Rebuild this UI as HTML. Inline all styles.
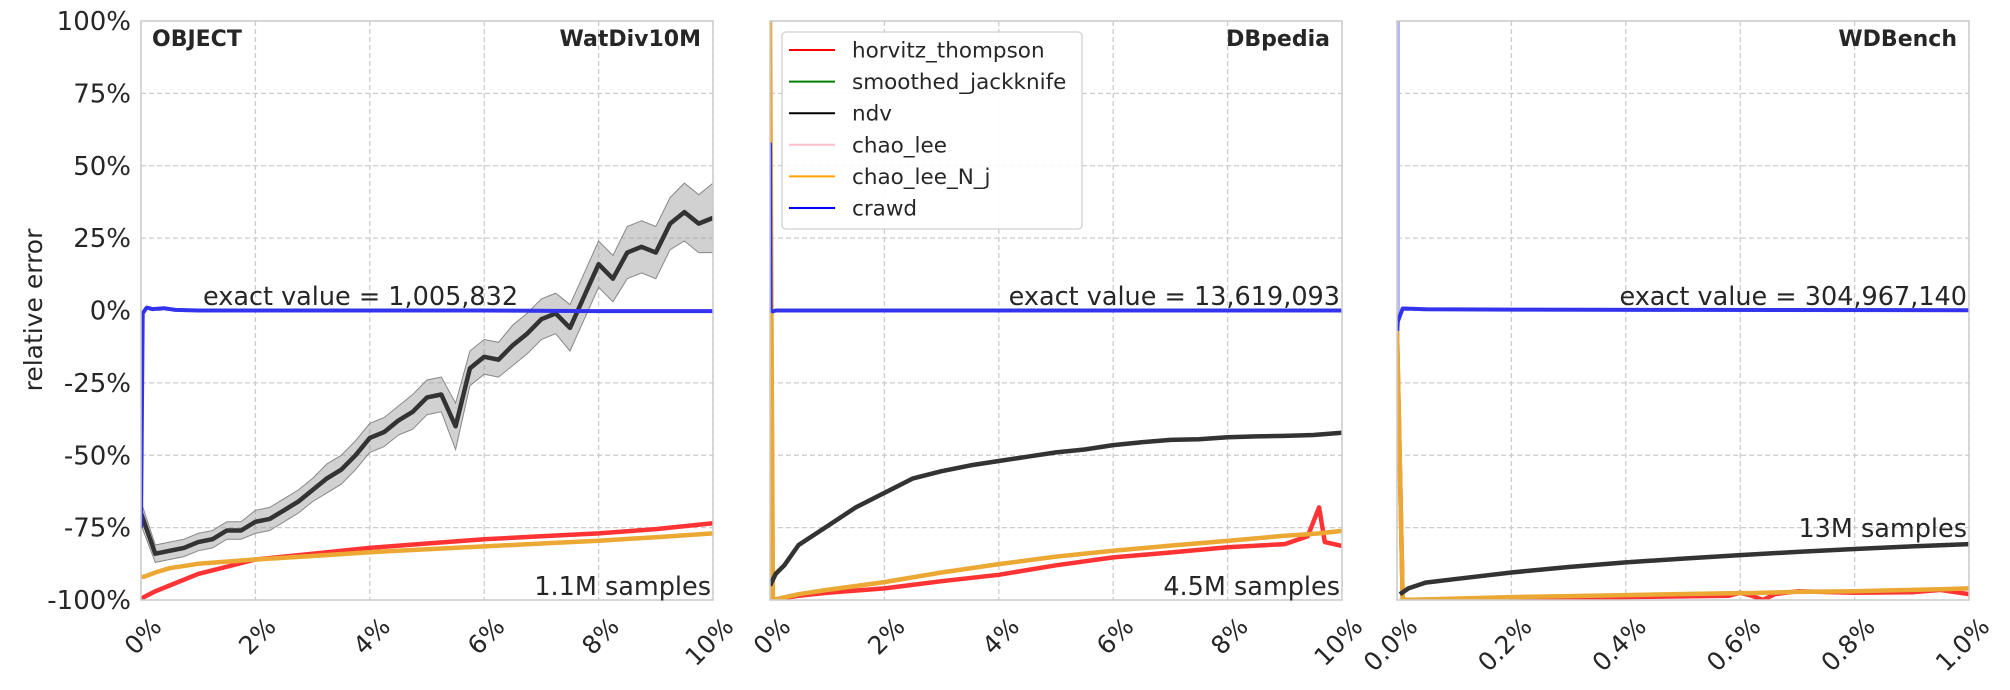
<!DOCTYPE html>
<html><head><meta charset="utf-8">
<style>
html,body{margin:0;padding:0;background:#fff;}
svg{display:block;font-family:"DejaVu Sans","Liberation Sans",sans-serif;}
</style></head>
<body>
<svg id="chart" width="2010" height="690" viewBox="0 0 2010 690" xmlns="http://www.w3.org/2000/svg">
<text x="42" y="310" transform="rotate(-90 42 310)" text-anchor="middle" font-size="25" fill="#262626">relative error</text>
</svg>
<script>
// ---- data ----
const yTicks = [100, 75, 50, 25, 0, -25, -50, -75, -100];
const panelNames = ["WatDiv10M", "DBpedia", "WDBench"];
const exactLabels = ["exact value = 1,005,832", "exact value = 13,619,093", "exact value = 304,967,140"];
const sampleLabels = ["1.1M samples", "4.5M samples", "13M samples"];
const xMaxes = [10, 10, 1.0];
const xTicks1 = [0, 2, 4, 6, 8, 10];
const xTickLabels1 = ["0%", "2%", "4%", "6%", "8%", "10%"];
const xTicks3 = [0, 0.2, 0.4, 0.6, 0.8, 1.0];
const xTickLabels3 = ["0.0%", "0.2%", "0.4%", "0.6%", "0.8%", "1.0%"];
const legendNames = ["horvitz_thompson", "smoothed_jackknife", "ndv", "chao_lee", "chao_lee_N_j", "crawd"];
const legendColors = ["#ff0000", "#007f00", "#000000", "#ffc0cb", "#ffa500", "#0000ff"];

// Panel 1 (WatDiv10M)
const p1X = [0,0.25,0.5,0.75,1,1.25,1.5,1.75,2,2.25,2.5,2.75,3,3.25,3.5,3.75,4,4.25,4.5,4.75,5,5.25,5.5,5.75,6,6.25,6.5,6.75,7,7.25,7.5,7.75,8,8.25,8.5,8.75,9,9.25,9.5,9.75,10];
const p1Ndv = [-70,-84,-83,-82,-80,-79,-76,-76,-73,-72,-69,-66,-62,-58,-55,-50,-44,-42,-38,-35,-30,-29,-40,-20,-16,-17,-12,-8,-3,-1,-6,5,16,11,20,22,20,30,34,30,32];
const p1NdvBand = [4,3,3,3,3,3,3,3,4,4,4,4,4,5,5,5,5,5,5,6,6,6,8,6,6,6,7,7,7,7,8,8,8,8,9,9,9,9,10,10,12];
const p1CurveX = [0,0.05,0.25,0.5,1,2,3,4,5,6,7,8,9,10];
const p1Ht = [-100,-99,-97,-95,-91,-86,-84,-82,-80.5,-79,-78,-77,-75.5,-73.5];
const p1Cl = [-92,-92,-90.5,-89,-87.5,-86,-84.8,-83.5,-82.5,-81.5,-80.5,-79.5,-78.3,-77];
const p1CrawdX = [0,0.03,0.1,0.2,0.4,0.6,1,2,4,6,8,10];
const p1Crawd = [-75,-1,1,0.5,0.8,0.2,0,0,0,0,-0.2,-0.2];

// Panel 2 (DBpedia)
const p2X = [0,0.1,0.25,0.5,1,1.5,2,2.5,3,3.5,4,4.5,5,5.5,6,6.5,7,7.5,8,8.5,9,9.5,10];
const p2Ndv = [-95,-91,-88,-81,-74.5,-68,-63,-58,-55.5,-53.5,-52,-50.5,-49,-48,-46.5,-45.5,-44.7,-44.5,-43.8,-43.5,-43.3,-43,-42.2];
const p2CurveX = [0,0.05,0.5,1,2,3,4,5,6,7,8,9,9.4,9.6,9.7,10];
const p2Ht = [-100,-100,-98.5,-97.5,-96,-93.5,-91.3,-88,-85.3,-83.6,-81.8,-80.7,-78,-68,-80,-81.3];
const p2Cl = [100,-100,-98,-96.5,-93.8,-90.5,-87.6,-85,-83,-81.2,-79.6,-77.8,-77.3,-77,-76.8,-76.1];
const p2CrawdX = [0,0.01,0.05,0.1,1,5,10];
const p2Crawd = [58,0,-0.3,0,0,0,0];

// Panel 3 (WDBench)
const p3X = [0.005,0.02,0.05,0.1,0.2,0.3,0.4,0.5,0.6,0.7,0.8,0.9,1.0];
const p3Ndv = [-98,-96,-94,-92.8,-90.5,-88.6,-87,-85.7,-84.5,-83.4,-82.4,-81.5,-80.7];
const p3CurveX = [0,0.01,0.2,0.4,0.58,0.6,0.62,0.64,0.66,0.7,0.8,0.9,0.95,1.0];
const p3Ht = [-7,-100,-99.5,-99,-98.5,-97.5,-98.5,-100,-98,-97,-97.5,-97.3,-96.5,-98];
const p3Cl = [-7,-100,-99,-98.3,-97.7,-97.6,-97.6,-97.5,-97.4,-97.2,-97,-96.5,-96.3,-96];
const p3CrawdX = [0,0.001,0.01,0.05,0.2,0.5,1.0];
const p3Crawd = [-7,-4,0.7,0.4,0.3,0.2,0.1];

// ---- rendering ----
const NS = "http://www.w3.org/2000/svg";
const svg = document.getElementById("chart");
const TOP = 21, BOTTOM = 600, W = 572;
const lefts = [141, 770, 1397];
function yS(v){ return TOP + (100 - v) / 200 * (BOTTOM - TOP); }
function mk(tag, parent){ const e = document.createElementNS(NS, tag); (parent||svg).appendChild(e); return e; }
function pathD(xs, ys, xf){ return xs.map((x,i)=> (i?"L":"M") + xf(x).toFixed(1) + "," + yS(ys[i]).toFixed(1)).join(" "); }

const panelsData = [
  {ticks: xTicks1, labels: xTickLabels1, ndvX: p1X, ndv: p1Ndv, band: p1NdvBand, cX: p1CurveX, ht: p1Ht, cl: p1Cl, crX: p1CrawdX, cr: p1Crawd},
  {ticks: xTicks1, labels: xTickLabels1, ndvX: p2X, ndv: p2Ndv, band: null, cX: p2CurveX, ht: p2Ht, cl: p2Cl, crX: p2CrawdX, cr: p2Crawd},
  {ticks: xTicks3, labels: xTickLabels3, ndvX: p3X, ndv: p3Ndv, band: null, cX: p3CurveX, ht: p3Ht, cl: p3Cl, crX: p3CrawdX, cr: p3Crawd}
];

panelsData.forEach((pd, p) => {
  const L = lefts[p];
  const xS = v => L + v / xMaxes[p] * W;
  const g = mk("g");
  
  
  const clipId = "clip" + p;
  const cp = mk("clipPath", g); cp.setAttribute("id", clipId);
  const cr = mk("rect", cp); cr.setAttribute("x", L); cr.setAttribute("y", TOP); cr.setAttribute("width", W); cr.setAttribute("height", BOTTOM - TOP);
  yTicks.forEach(t => {
    const l = mk("line", g);
    
    
    l.setAttribute("x1", L); l.setAttribute("x2", L + W); l.setAttribute("y1", yS(t)); l.setAttribute("y2", yS(t));
    l.setAttribute("stroke", "#cccccc"); l.setAttribute("stroke-width", "1.3"); l.setAttribute("stroke-dasharray", "5,3");
  });
  pd.ticks.forEach((t, i) => {
    const l = mk("line", g);
    
    
    l.setAttribute("x1", xS(t)); l.setAttribute("x2", xS(t)); l.setAttribute("y1", TOP); l.setAttribute("y2", BOTTOM);
    l.setAttribute("stroke", "#cccccc"); l.setAttribute("stroke-width", "1.3"); l.setAttribute("stroke-dasharray", "5,3");
    const tx = mk("text", g);
    
    
    const ax = xS(t) + 9, ay = BOTTOM + 15;
    tx.setAttribute("x", ax); tx.setAttribute("y", ay);
    tx.setAttribute("text-anchor", "end"); tx.setAttribute("dominant-baseline", "hanging");
    tx.setAttribute("transform", "rotate(-45 " + ax + " " + ay + ")");
    tx.setAttribute("font-size", "25"); tx.setAttribute("fill", "#262626");
    tx.textContent = pd.labels[i];
  });
  if (p === 0) {
    yTicks.forEach(t => {
      const tx = mk("text", g);
      
      
      tx.setAttribute("x", L - 10); tx.setAttribute("y", yS(t) + 9);
      tx.setAttribute("text-anchor", "end"); tx.setAttribute("font-size", "26"); tx.setAttribute("fill", "#262626");
      tx.textContent = t + "%";
    });
  }
  const dg = mk("g", g); dg.setAttribute("clip-path", "url(#" + clipId + ")");
  
  
  if (p === 2) {
    const sp = mk("line", dg);
    
    
    sp.setAttribute("x1", xS(0) + 1); sp.setAttribute("x2", xS(0) + 1); sp.setAttribute("y1", yS(100)); sp.setAttribute("y2", yS(-7));
    sp.setAttribute("stroke", "#b8b8f0"); sp.setAttribute("stroke-width", "4");
  }
  if (pd.band) {
    const up = pd.ndvX.map((x,i)=> xS(x).toFixed(1)+","+yS(pd.ndv[i]+pd.band[i]).toFixed(1));
    const dn = pd.ndvX.map((x,i)=> xS(x).toFixed(1)+","+yS(pd.ndv[i]-pd.band[i]).toFixed(1)).reverse();
    const b = mk("polygon", dg);
    
    
    b.setAttribute("points", up.concat(dn).join(" ")); b.setAttribute("fill", "#999"); b.setAttribute("fill-opacity", "0.45");
    b.setAttribute("stroke", "#888"); b.setAttribute("stroke-width", "1");
  }
  const series = [
    {name: "chao-lee-line", xs: pd.cX, ys: pd.cl, c: "#ffc0cb", w: 4},
    {name: "smoothed-jackknife-line", xs: pd.cX, ys: pd.cl, c: "#007f00", w: 3},
    {name: "horvitz-thompson-line", xs: pd.cX, ys: pd.ht, c: "#ff3333", w: 4.5},
    {name: "chao-lee-n-j-line", xs: pd.cX, ys: pd.cl, c: "#eba833", w: 4.5},
    {name: "ndv-line", xs: pd.ndvX, ys: pd.ndv, c: "#333333", w: 4.5},
    {name: "crawd-line", xs: pd.crX, ys: pd.cr, c: "#3333ee", w: 4}
  ];
  series.forEach(s => {
    const pa = mk("path", dg);
    
    
    pa.setAttribute("d", pathD(s.xs, s.ys, xS));
    pa.setAttribute("fill", "none"); pa.setAttribute("stroke", s.c); pa.setAttribute("stroke-width", s.w);
    pa.setAttribute("stroke-linejoin", "round");
  });
  const bd = mk("rect", g);
  
  
  bd.setAttribute("x", L); bd.setAttribute("y", TOP); bd.setAttribute("width", W); bd.setAttribute("height", BOTTOM - TOP);
  bd.setAttribute("fill", "none"); bd.setAttribute("stroke", "#cccccc"); bd.setAttribute("stroke-width", "1.5");
  const tt = mk("text", g);
  
  
  tt.setAttribute("x", L + W - 12); tt.setAttribute("y", 46); tt.setAttribute("text-anchor", "end");
  tt.setAttribute("font-size", "22"); tt.setAttribute("font-weight", "bold"); tt.setAttribute("fill", "#262626");
  tt.textContent = panelNames[p];
  const ev = mk("text", g);
  
  
  if (p === 0) { ev.setAttribute("x", 203); ev.setAttribute("text-anchor", "start"); }
  else { ev.setAttribute("x", L + W - 2); ev.setAttribute("text-anchor", "end"); }
  ev.setAttribute("y", 305); ev.setAttribute("font-size", "25.5"); ev.setAttribute("fill", "#262626");
  ev.textContent = exactLabels[p];
  const sl = mk("text", g);
  
  
  sl.setAttribute("x", L + W - 2); sl.setAttribute("y", p === 2 ? 537 : 595);
  sl.setAttribute("text-anchor", "end"); sl.setAttribute("font-size", "25.5"); sl.setAttribute("fill", "#262626");
  sl.textContent = sampleLabels[p];
});

const ob = mk("text");


ob.setAttribute("x", 152); ob.setAttribute("y", 46); ob.setAttribute("font-size", "22"); ob.setAttribute("font-weight", "bold"); ob.setAttribute("fill", "#262626");
ob.textContent = "OBJECT";

const lg = mk("g");


const lb = mk("rect", lg);
lb.setAttribute("x", 782); lb.setAttribute("y", 32); lb.setAttribute("width", 300); lb.setAttribute("height", 197);
lb.setAttribute("rx", 4); lb.setAttribute("fill", "#fff"); lb.setAttribute("fill-opacity", "0.9"); lb.setAttribute("stroke", "#d0d0d0"); lb.setAttribute("stroke-width", "1.3");
legendNames.forEach((n, i) => {
  const y = 50 + i * 31.6;
  const e = mk("g", lg);
  
  
  const l = mk("line", e);
  l.setAttribute("x1", 789); l.setAttribute("x2", 835); l.setAttribute("y1", y); l.setAttribute("y2", y);
  l.setAttribute("stroke", legendColors[i]); l.setAttribute("stroke-width", "2");
  const t = mk("text", e);
  t.setAttribute("x", 852); t.setAttribute("y", y + 7.5); t.setAttribute("font-size", "21.5"); t.setAttribute("fill", "#262626");
  t.textContent = n;
});
</script>
</body></html>
